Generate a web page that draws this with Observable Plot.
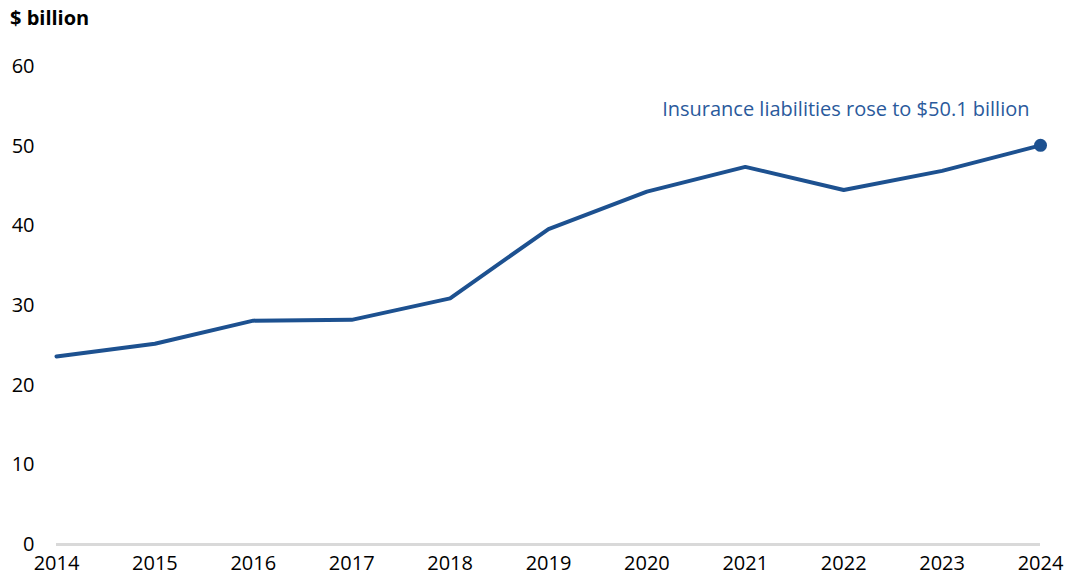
<!DOCTYPE html>
<html>
<head>
<meta charset="utf-8">
<script src="https://cdn.jsdelivr.net/npm/d3@7"></script>
<script src="https://cdn.jsdelivr.net/npm/@observablehq/plot@0.6"></script>
<style>
  body { margin: 0; background: #fff; font-family: "Open Sans", "Noto Sans", sans-serif; }
  #title { height: 36px; line-height: 36px; padding-left: 10px; font-weight: 700; font-size: 20px; color: #000; }
</style>
</head>
<body>
<div id="title">$ billion</div>
<div id="chart"></div>
<script>
const years = [2014, 2015, 2016, 2017, 2018, 2019, 2020, 2021, 2022, 2023, 2024];
const liabilities = [23.6, 25.2, 28.1, 28.2, 30.9, 39.6, 44.3, 47.4, 44.5, 46.9, 50.1];
const yTicks = [0, 10, 20, 30, 40, 50, 60];
const annotation = "Insurance liabilities rose to $50.1 billion";

const data = years.map((y, i) => ({year: y, value: liabilities[i]}));
const last = data[data.length - 1];
const blue = "#1d5190";

const chart = Plot.plot({
  width: 1072,
  height: 545,
  marginTop: 30,
  marginBottom: 37,
  marginLeft: 56,
  marginRight: 32,
  style: {fontFamily: "'Open Sans', 'Noto Sans', sans-serif", fontSize: "20px", color: "#000", background: "#fff"},
  x: {domain: [2014, 2024], label: null},
  y: {domain: [0, 60], label: null},
  marks: [
    Plot.ruleY([0], {stroke: "#d9d9d9", strokeWidth: 3}),
    Plot.axisX({ticks: years, tickFormat: d => String(d), tickSize: 0, tickPadding: 11, label: null, fontSize: 20}),
    Plot.axisY({ticks: yTicks, tickSize: 0, tickPadding: 22, label: null, fontSize: 20}),
    Plot.line(data, {x: "year", y: "value", stroke: blue, strokeWidth: 4}),
    Plot.dot([last], {x: "year", y: "value", fill: blue, r: 6.5}),
    Plot.text([last], {x: "year", y: "value", text: () => annotation, textAnchor: "end", dx: -11, dy: -36, fill: "#2a5a9c", fontSize: 20})
  ]
});
document.getElementById("chart").appendChild(chart);
</script>
</body>
</html>
